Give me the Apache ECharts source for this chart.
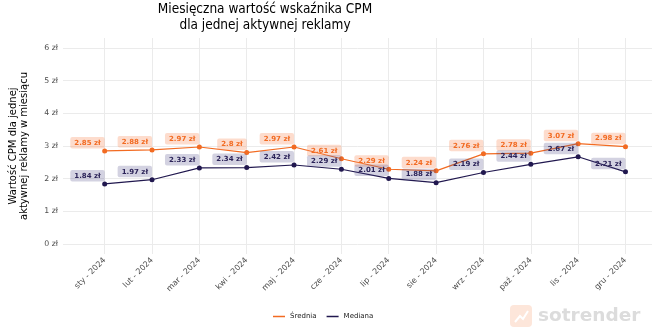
<!DOCTYPE html>
<html>
<head>
<meta charset="utf-8">
<script src="https://cdn.jsdelivr.net/npm/echarts@6/dist/echarts.min.js"></script>
<style>html,body{margin:0;padding:0;background:#fff}#c{width:655px;height:327px}</style>
</head>
<body>
<div id="c"></div>
<script>
const categories = ['sty - 2024','lut - 2024','mar - 2024','kwi - 2024','maj - 2024','cze - 2024','lip - 2024','sie - 2024','wrz - 2024','paź - 2024','lis - 2024','gru - 2024'];
const srednia = [2.85, 2.88, 2.97, 2.8, 2.97, 2.61, 2.29, 2.24, 2.76, 2.78, 3.07, 2.98];
const mediana = [1.84, 1.97, 2.33, 2.34, 2.42, 2.29, 2.01, 1.88, 2.19, 2.44, 2.67, 2.21];
const yTicks = [0, 1, 2, 3, 4, 5, 6];
const xIdx = categories.map((c, i) => i);

const FONT = "'DejaVu Sans', sans-serif";
const TFONT = "'DejaVu Sans Condensed', 'DejaVu Sans', sans-serif";
const ORANGE = '#f26b22';
const NAVY = '#21184f';

const chart = echarts.init(document.getElementById('c'), null, {renderer: 'canvas'});
function lbl(color, bg) {
  return {
    show: true, position: 'top', distance: 0, align: 'right',
    formatter: p => p.value[1] + ' zł',
    color: color, fontFamily: FONT, fontWeight: 'bold', fontSize: 7,
    backgroundColor: bg, padding: [2.5, 4, 2, 4], borderRadius: 2
  };
}
chart.setOption({
  animation: false,
  backgroundColor: '#fff',
  grid: {left: 56, right: 3, top: 38, bottom: 73},
  graphic: [
    {type: 'text', x: 265, y: 1, style: {text: 'Miesięczna wartość wskaźnika CPM\ndla jednej aktywnej reklamy', font: "13.5px " + TFONT, fill: '#000', align: 'center', verticalAlign: 'top', lineHeight: 16}},
    {type: 'rect', x: 510, y: 305, shape: {width: 22, height: 22, r: 4}, style: {fill: '#fde6da'}},
    {type: 'polyline', shape: {points: [[515, 322], [520, 316], [523, 319], [528, 311]]}, style: {stroke: '#fff', lineWidth: 2, fill: null}},
    {type: 'text', x: 538, y: 316, style: {text: 'sotrender', font: "bold 18.5px " + FONT, fill: '#dcdcdc', verticalAlign: 'middle'}}
  ],
  legend: {
    bottom: 2, left: 268, icon: 'rect', itemWidth: 12, itemHeight: 1.5, itemGap: 10,
    textStyle: {fontFamily: FONT, fontSize: 7, color: '#222'},
    data: ['Średnia', 'Mediana']
  },
  xAxis: {
    type: 'value', min: -0.88, max: 11.56,
    axisLine: {show: false},
    axisTick: {show: false, customValues: xIdx},
    splitLine: {show: true, lineStyle: {color: '#ebebeb', width: 1}},
    axisLabel: {customValues: xIdx, formatter: v => categories[v], rotate: 45, margin: 5, fontFamily: FONT, fontSize: 8, color: '#4d4d4d'}
  },
  yAxis: {
    type: 'value', min: -0.3, max: 6.3,
    name: 'Wartość CPM dla jednej\naktywnej reklamy w miesiącu',
    nameLocation: 'middle', nameRotate: 90, nameGap: 33,
    nameTextStyle: {fontFamily: FONT, fontSize: 10, color: '#000', lineHeight: 11},
    axisLine: {show: false},
    axisTick: {show: false, customValues: yTicks},
    splitLine: {show: true, lineStyle: {color: '#ebebeb', width: 1}},
    axisLabel: {customValues: yTicks, formatter: v => v + ' zł', margin: 5, fontFamily: FONT, fontSize: 7.8, color: '#4d4d4d'}
  },
  series: [
    {name: 'Średnia', type: 'line', data: xIdx.map(i => [i, srednia[i]]), color: ORANGE,
     symbol: 'circle', symbolSize: 5, lineStyle: {width: 1.2, color: ORANGE}, itemStyle: {color: ORANGE},
     label: lbl('#f26b22', 'rgba(248,140,90,0.3)')},
    {name: 'Mediana', type: 'line', data: xIdx.map(i => [i, mediana[i]]), color: NAVY,
     symbol: 'circle', symbolSize: 5, lineStyle: {width: 1.2, color: NAVY}, itemStyle: {color: NAVY},
     label: lbl('#2b2358', 'rgba(70,65,130,0.24)')}
  ]
});
</script>
</body>
</html>
